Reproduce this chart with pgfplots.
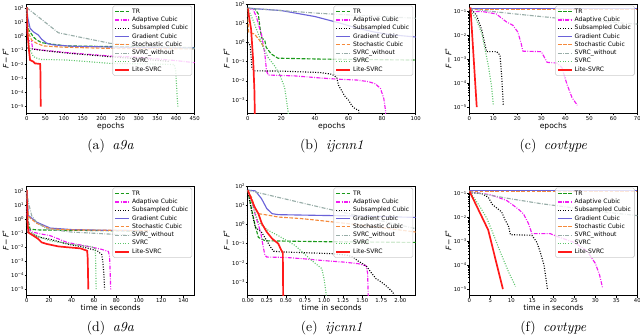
\documentclass[border=0pt]{standalone}
\usepackage{fontspec}
\usepackage{pgfplots}
\pgfplotsset{compat=1.18}
\newfontfamily\dv{DejaVu Sans}
\newcommand\tickf{\dv\fontsize{3.8}{4.4}\selectfont}
\newcommand\legf{\dv\fontsize{4.3}{5}\selectfont}
\newcommand\labf{\dv\fontsize{5.4}{6.2}\selectfont}
\newcommand\tp[1]{10\raisebox{0.55ex}{\fontsize{2.7}{3}\selectfont#1}}
\newcommand\capf{\fontsize{9.8}{11}\selectfont}

\definecolor{cTR}{HTML}{1A9A1A}
\definecolor{cAC}{HTML}{F21AF2}
\definecolor{cGC}{HTML}{6A62D8}
\definecolor{cST}{HTML}{F58A3C}
\definecolor{cSW}{HTML}{98ADA8}
\definecolor{cSV}{HTML}{5CC46A}
\definecolor{cLS}{HTML}{FF1A1A}

\tikzset{
  sTR/.style={draw=cTR, line width=0.8pt, dash pattern=on 2.6pt off 1.1pt},
  sAC/.style={draw=cAC, line width=0.8pt, dash pattern=on 2.8pt off 1pt on 0.6pt off 1pt},
  sSC/.style={draw=black, line width=0.8pt, dash pattern=on 0.7pt off 1.1pt},
  sGC/.style={draw=cGC, line width=0.8pt},
  sST/.style={draw=cST, line width=0.8pt, dash pattern=on 2.6pt off 1.1pt},
  sSW/.style={draw=cSW, line width=0.8pt, dash pattern=on 2.8pt off 1pt on 0.6pt off 1pt},
  sSV/.style={draw=cSV, line width=0.8pt, dash pattern=on 0.7pt off 1.1pt},
  sLS/.style={draw=cLS, line width=1.2pt},
}

\pgfplotsset{
  every axis/.append style={
    scale only axis, width=4.2cm, height=2.74cm, anchor=south west,
    axis line style={black, line width=0.45pt},
    tick align=outside, xtick pos=left, ytick pos=left,
    major tick length=0.05cm, minor tick length=0.03cm,
    tick style={black, line width=0.4pt},
    ticklabel style={font=\tickf, inner sep=0.6pt},
    scaled x ticks=false,
    label style={font=\labf},
    xlabel style={inner sep=0.5pt},
    ylabel style={inner sep=1pt},
    ylabel={{\itshape F}\,−\,{\itshape F}\raisebox{0.6ex}{\fontsize{3.8}{4}\selectfont*}},
    legend cell align=left,
    legend style={at={(rel axis cs:0.985,0.985)}, anchor=north east,
      font=\legf, draw=black!20, fill=white, fill opacity=0.8,
      draw opacity=1, text opacity=1, rounded corners=1.2pt,
      inner xsep=1.2pt, inner ysep=1.2pt,
      nodes={inner xsep=1.4pt, inner ysep=0.95pt, text height=3.1pt, text depth=0.9pt}},
  },
  legend image code/.code={\draw[#1] (0cm,0cm) -- (0.35cm,0cm);},
}
\pgfkeys{/pgf/number format/assume math mode=true}

\begin{document}
\begin{tikzpicture}
\useasboundingbox (0,0) rectangle (16,8.375);

% (a) a9a, epochs
\begin{axis}[ymode=log, at={(0.6675cm,5.5375cm)},
  xmin=0, xmax=450, ymin=3.3e-6, ymax=204, xtick={0,50,...,450}, xlabel={epochs},
  ytick={1e-5,1e-4,1e-3,1e-2,1e-1,1,10,100},
  yticklabels={\tp{−5},\tp{−4},\tp{−3},\tp{−2},\tp{−1},\tp{0},\tp{1},\tp{2}}]
\addplot[sTR] coordinates {(0,110)(2,8)(5,3)(9,2.1)(18,0.9)(27,0.55)(40,0.36)(63,0.29)(107,0.21)(224,0.19)(450,0.16)};
\addplot[sAC] coordinates {(0,110)(1,5)(3,0.6)(9,0.45)(13,0.42)(16,0.13)(50,0.1)(107,0.07)(224,0.04)(300,0.033)(400,0.019)(450,0.0135)};
\addplot[sSC] coordinates {(0,0.15)(30,0.11)(107,0.065)(224,0.036)(300,0.025)(380,0.017)};
\addplot[sGC] coordinates {(0,110)(3,20)(9,3.8)(18,2.1)(31,1.26)(40,0.63)(54,0.32)(71,0.25)(120,0.2)(250,0.17)(450,0.15)};
\addplot[sST] coordinates {(0,110)(2,5)(6,1.5)(13,0.55)(27,0.32)(45,0.21)(100,0.17)(224,0.14)(450,0.13)};
\addplot[sSW] coordinates {(0,110)(85,1.8)(150,0.8)(224,0.32)(330,0.2)(450,0.13)};
\addplot[sSV] coordinates {(0,110)(3,2)(8,0.13)(18,0.036)(36,0.023)(107,0.021)(224,0.012)(330,0.011)(395,0.01)(399,0.004)(401,0.0005)(403,5e-5)(405,1e-5)};
\addplot[sLS] coordinates {(0,120)(2,2)(6,0.11)(9,0.021)(18,0.016)(22,0.012)(36,0.011)(37,0.002)(37.5,1e-5)};
\legend{TR,Adaptive Cubic,Subsampled Cubic,Gradient Cubic,Stochastic Cubic,SVRC\_without,SVRC,Lite-SVRC}
\end{axis}

% (b) ijcnn1, epochs
\begin{axis}[ymode=log, at={(6.1925cm,5.5375cm)},
  xmin=0, xmax=100, ymin=2e-4, ymax=100, xtick={0,20,...,100}, xlabel={epochs},
  ytick={1e-3,1e-2,1e-1,1,10,100},
  yticklabels={\tp{−3},\tp{−2},\tp{−1},\tp{0},\tp{1},\tp{2}}]
\addplot[sTR] coordinates {(0,60)(4.3,55)(6.3,30)(7.3,6)(8.2,1.8)(10.2,1.2)(11,0.55)(14,0.25)(18,0.15)(43.5,0.135)(100,0.12)};
\addplot[sAC] coordinates {(0,60)(3.3,50)(5.3,20)(6.3,9)(8.2,2.7)(9.2,0.8)(10.2,0.25)(11.2,0.033)(12.2,0.02)(28,0.018)(43.5,0.014)(55,0.012)(65,0.011)(72,0.009)(76,0.007)(79,0.004)(81,0.0012)(82,3e-4)(82.3,1e-4)};
\addplot[sSC] coordinates {(0,1)(1.5,0.7)(2.5,0.05)(4,0.033)(20,0.032)(43,0.027)(50,0.022)(53,0.015)(54,0.006)(56,0.003)(58,0.0015)(60,0.001)(62,5e-4)(64,3.5e-4)(66,3e-4)(66.5,1e-4)};
\addplot[sGC] coordinates {(0,60)(20,45)(40,22)(55,10)(65,5.5)(75,3.5)(85,2.5)(100,1.9)};
\addplot[sST] coordinates {(0,60)(0.5,3.5)(4,2.7)(7,1.3)(9.5,0.6)};
\addplot[sSW] coordinates {(0,60)(43.5,32)(100,18)};
\addplot[sSV] coordinates {(0,60)(3.3,13.5)(6.3,2.7)(9.2,0.55)(12.2,0.16)(16,0.06)(19,0.022)(22,0.0044)(24,2.7e-4)(24.5,1e-4)};
\addplot[sLS] coordinates {(0,60)(2,5)(3.3,0.1)(4,0.003)(4.3,1e-4)};
\legend{TR,Adaptive Cubic,Subsampled Cubic,Gradient Cubic,Stochastic Cubic,SVRC\_without,SVRC,Lite-SVRC}
\end{axis}

% (c) covtype, epochs
\begin{axis}[ymode=log, at={(11.7325cm,5.5375cm)},
  xmin=0, xmax=70, ymin=5.4e-6, ymax=0.21, xtick={0,10,...,70}, xlabel={epochs},
  ytick={1e-5,1e-4,1e-3,1e-2,1e-1},
  yticklabels={\tp{−5},\tp{−4},\tp{−3},\tp{−2},\tp{−1}}]
\addplot[sTR] coordinates {(0,0.13)(70,0.13)};
\addplot[sAC] coordinates {(0,0.13)(1,0.1)(5.6,0.1)(11.2,0.08)(15.3,0.038)(18.1,0.027)(20.2,0.014)(21.6,0.0047)(22.3,0.0022)(30,0.0021)(32.4,0.00075)(36.5,0.0007)(38.6,0.00045)(40.7,9e-5)(42.8,2.5e-5)(45,1.2e-5)};
\addplot[sSC] coordinates {(0,0.13)(1,0.12)(3,0.07)(5.2,0.017)(7.2,0.0021)(11.4,0.0021)(12.8,0.0015)(13.5,1.9e-4)(14.2,1.1e-5)};
\addplot[sGC] coordinates {(0,0.14)(70,0.14)};
\addplot[sST] coordinates {(0,0.125)(70,0.125)};
\addplot[sSW] coordinates {(0,0.13)(10,0.1)(20,0.078)(30,0.062)(40,0.049)(70,0.03)};
\addplot[sSV] coordinates {(0,0.13)(3,0.045)(5.2,0.012)(6.6,0.0025)(8,5e-4)(9.3,7e-5)(10,1.2e-5)};
\addplot[sLS] coordinates {(0,0.14)(0.5,0.14)(3.1,1e-5)};
\legend{TR,Adaptive Cubic,Subsampled Cubic,Gradient Cubic,Stochastic Cubic,SVRC\_without,SVRC,Lite-SVRC}
\end{axis}

% (d) a9a, time
\begin{axis}[ymode=log, at={(0.6675cm,0.9875cm)},
  xmin=0, xmax=150, ymin=3.7e-6, ymax=229, xtick={0,20,...,140}, xlabel={time in seconds},
  ytick={1e-5,1e-4,1e-3,1e-2,1e-1,1,10,100},
  yticklabels={\tp{−5},\tp{−4},\tp{−3},\tp{−2},\tp{−1},\tp{0},\tp{1},\tp{2}}]
\addplot[sTR] coordinates {(0,110)(1,1)(3,0.19)(10,0.17)(30,0.16)(60,0.155)(100,0.14)};
\addplot[sAC] coordinates {(0,110)(0.5,2)(1.5,0.2)(5,0.12)(12,0.09)(21,0.066)(28,0.04)(36,0.022)(51,0.013)(66,0.0074)(73,0.005)(74,0.002)(74.5,2e-4)(75,1e-5)};
\addplot[sSC] coordinates {(0,0.12)(12,0.05)(22,0.035)(36,0.017)(51,0.01)(63,0.0056)(67,0.003)(68,0.0009)(69,1e-4)(69.5,1e-5)};
\addplot[sGC] coordinates {(0,110)(1.5,1.8)(9,0.6)(21,0.23)(40,0.18)(70,0.16)(100,0.15)};
\addplot[sST] coordinates {(0,110)(1.5,1.5)(9,0.5)(21,0.2)(40,0.17)(80,0.16)(110,0.15)};
\addplot[sSW] coordinates {(0,110)(1.5,15)(4.5,1.7)(9,0.58)(18,0.2)(40,0.12)(75,0.085)(100,0.07)};
\addplot[sSV] coordinates {(0,110)(1,0.5)(3,0.12)(10,0.06)(20,0.03)(40,0.016)(58,0.011)(61,0.008)(61.5,0.002)(62,1e-5)};
\addplot[sLS] coordinates {(0,120)(0.5,1)(1.5,0.11)(6,0.066)(10.4,0.038)(13.4,0.022)(18,0.017)(28,0.0115)(36,0.01)(48,0.0083)(54,0.0056)(54.5,0.0015)(55,1e-5)};
\legend{TR,Adaptive Cubic,Subsampled Cubic,Gradient Cubic,Stochastic Cubic,SVRC\_without,SVRC,Lite-SVRC}
\end{axis}

% (e) ijcnn1, time
\begin{axis}[ymode=log, at={(6.1925cm,0.9875cm)},
  xmin=0, xmax=2.2, ymin=2e-4, ymax=100, xtick={0,0.25,0.5,0.75,1,1.25,1.5,1.75,2},
  xticklabel style={/pgf/number format/.cd,fixed,fixed zerofill,precision=2},
  xlabel={time in seconds},
  ytick={1e-3,1e-2,1e-1,1,10,100},
  yticklabels={\tp{−3},\tp{−2},\tp{−1},\tp{0},\tp{1},\tp{2}}]
\addplot[sTR] coordinates {(0,60)(0.05,6.5)(0.096,0.9)(0.14,0.21)(0.23,0.14)(0.97,0.126)(2.2,0.115)};
\addplot[sAC] coordinates {(0,60)(0.05,20)(0.1,3)(0.15,0.7)(0.175,0.3)(0.2,0.08)(0.225,0.025)(0.25,0.02)(0.5,0.019)(0.75,0.016)(1.0,0.013)(1.25,0.011)(1.45,0.009)(1.55,0.007)(1.57,0.003)(1.58,1e-4)};
\addplot[sSC] coordinates {(0,60)(0.05,5)(0.1,0.7)(0.18,0.4)(0.25,0.14)(0.3,0.065)(0.34,0.04)(0.45,0.037)(0.8,0.033)(1.1,0.03)(1.3,0.025)(1.38,0.02)(1.45,0.012)(1.55,0.007)(1.62,0.003)(1.68,0.0015)(1.75,0.001)(1.82,6e-4)(1.9,3e-4)(1.93,1.5e-4)};
\addplot[sGC] coordinates {(0,60)(0.1,55)(0.18,22)(0.25,6.6)(0.32,3.6)(0.4,3.2)(1.0,2.9)(1.5,2.7)(2.2,2.3)};
\addplot[sST] coordinates {(0,60)(0.05,25)(0.1,6.6)(0.14,3.6)(0.27,3)(0.4,2.4)(0.7,2)(1.0,1.5)(1.5,0.9)(2.2,0.4)};
\addplot[sSW] coordinates {(0,60)(1.0,7)(2.2,0.6)};
\addplot[sSV] coordinates {(0,60)(0.07,8)(0.14,1.3)(0.27,0.48)(0.4,0.26)(0.62,0.08)(0.84,0.013)(0.97,0.005)(1.0,0.0015)(1.02,4e-4)(1.04,1e-4)};
\addplot[sLS] coordinates {(0,60)(0.09,8)(0.14,3.6)(0.185,1.1)(0.25,0.4)(0.32,0.18)(0.4,0.1)(0.44,0.045)(0.46,0.035)(0.465,1e-4)};
\legend{TR,Adaptive Cubic,Subsampled Cubic,Gradient Cubic,Stochastic Cubic,SVRC\_without,SVRC,Lite-SVRC}
\end{axis}

% (f) covtype, time
\begin{axis}[ymode=log, at={(11.7325cm,0.9875cm)},
  xmin=0, xmax=40, ymin=5.4e-6, ymax=0.21, xtick={0,5,...,40}, xlabel={time in seconds},
  ytick={1e-5,1e-4,1e-3,1e-2,1e-1},
  yticklabels={\tp{−5},\tp{−4},\tp{−3},\tp{−2},\tp{−1}}]
\addplot[sTR] coordinates {(0,0.13)(40,0.13)};
\addplot[sAC] coordinates {(0,0.12)(3,0.1)(5,0.09)(7.3,0.065)(9,0.05)(10.5,0.032)(12,0.02)(12.9,0.014)(14.1,0.0055)(14.9,0.0021)(19.3,0.0021)(20.5,0.0017)(25,0.0009)(28,0.0004)(30,0.00012)(31,4e-5)(31.7,1.2e-5)};
\addplot[sSC] coordinates {(0,0.11)(3,0.1)(4.5,0.07)(5.5,0.035)(7.7,0.017)(8.5,0.008)(9.3,0.0045)(9.8,0.0019)(14.9,0.0018)(16.1,9e-4)(16.9,3.5e-4)(17.8,1e-4)(18.6,1e-5)};
\addplot[sGC] coordinates {(0,0.14)(40,0.14)};
\addplot[sST] coordinates {(0,0.125)(40,0.125)};
\addplot[sSW] coordinates {(0,0.12)(5,0.085)(10,0.06)(17,0.038)(25,0.025)(32,0.017)(40,0.012)};
\addplot[sSV] coordinates {(0,0.13)(2.6,0.027)(4.2,0.009)(5.5,0.0025)(7.4,3.5e-4)(9.4,5e-5)(11,1.3e-5)};
\addplot[sLS] coordinates {(0,0.13)(4.5,0.003)(8,1e-5)};
\legend{TR,Adaptive Cubic,Subsampled Cubic,Gradient Cubic,Stochastic Cubic,SVRC\_without,SVRC,Lite-SVRC}
\end{axis}

\node[font=\capf] at (2.7625,4.725) {(a)\hspace{0.55em}\textit{a9a}};
\node[font=\capf] at (8.2925,4.725) {(b)\hspace{0.55em}\textit{ijcnn1}};
\node[font=\capf] at (13.8325,4.725) {(c)\hspace{0.55em}\textit{covtype}};
\node[font=\capf] at (2.7625,0.175) {(d)\hspace{0.55em}\textit{a9a}};
\node[font=\capf] at (8.2925,0.175) {(e)\hspace{0.55em}\textit{ijcnn1}};
\node[font=\capf] at (13.8325,0.175) {(f)\hspace{0.55em}\textit{covtype}};
\end{tikzpicture}
\end{document}
